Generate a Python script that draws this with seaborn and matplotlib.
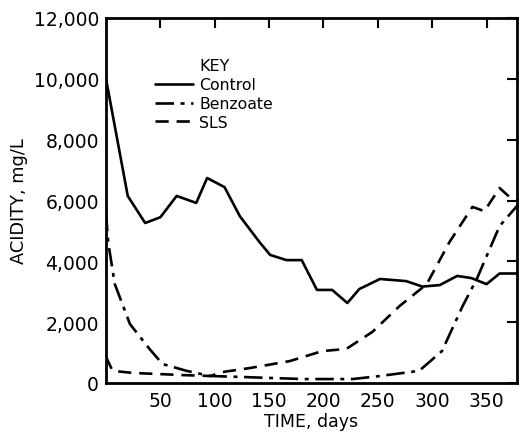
import matplotlib
matplotlib.use("Agg")
import matplotlib.pyplot as plt
import seaborn as sns
import pandas as pd
from matplotlib.ticker import FuncFormatter

control_days = [0, 20, 36, 50, 65, 83, 93, 109, 123, 141, 151, 166, 180, 194, 208, 222, 233, 252, 276, 291, 307, 323, 336, 350, 362, 378]
control_acid = [10000, 6150, 5260, 5450, 6150, 5920, 6740, 6440, 5490, 4640, 4210, 4040, 4040, 3060, 3060, 2630, 3090, 3420, 3350, 3170, 3220, 3520, 3450, 3250, 3600, 3600]

benzoate_days = [0, 2, 8, 22, 40, 52, 74, 96, 123, 181, 227, 252, 288, 309, 328, 341, 362, 378]
benzoate_acid = [5600, 4640, 3260, 1940, 1120, 625, 400, 230, 200, 130, 130, 230, 400, 1050, 2530, 3420, 5160, 5820]

sls_days = [0, 6, 25, 71, 96, 107, 132, 169, 199, 221, 245, 270, 295, 316, 337, 348, 362, 371, 378]
sls_acid = [860, 400, 330, 260, 230, 360, 490, 720, 1050, 1120, 1680, 2530, 3250, 4640, 5790, 5650, 6410, 6120, 5980]

series_names = ["Control", "Benzoate", "SLS"]
x_ticks = [50, 100, 150, 200, 250, 300, 350]
y_ticks = [0, 2000, 4000, 6000, 8000, 10000, 12000]

sns.set_theme(style="white")
plt.rcParams["font.family"] = ["DejaVu Sans"]
plt.rcParams["text.color"] = "black"
plt.rcParams["axes.labelcolor"] = "black"

fig = plt.figure(figsize=(5.19, 4.35), dpi=100)
ax = fig.add_axes([106 / 519, 1 - 384 / 435, 411 / 519, 365 / 435])

styles = {
    "Control": dict(linestyle="-", linewidth=1.9),
    "Benzoate": dict(linestyle=(0, (7, 2.5, 1.5, 2.5)), linewidth=1.9),
    "SLS": dict(linestyle=(0, (5, 3)), linewidth=1.9),
}
data = {
    "Control": (control_days, control_acid),
    "Benzoate": (benzoate_days, benzoate_acid),
    "SLS": (sls_days, sls_acid),
}
for name in series_names:
    d, a = data[name]
    df = pd.DataFrame({"day": d, "acid": a})
    sns.lineplot(data=df, x="day", y="acid", ax=ax, color="black",
                 label=name, sort=False, **styles[name])

ax.set_xlim(0, 378)
ax.set_ylim(0, 12000)
ax.set_xticks(x_ticks)
ax.set_yticks(y_ticks)
ax.yaxis.set_major_formatter(FuncFormatter(lambda v, p: f"{int(v):,}"))
ax.tick_params(direction="in", length=7, width=1.5, top=True, right=True,
               labelsize=13.5, colors="black", pad=5)
ax.tick_params(axis="x", pad=6)
for s in ax.spines.values():
    s.set_linewidth(2)
    s.set_color("black")

ax.set_xlabel("TIME, days", fontsize=12.5, labelpad=1)
ax.set_ylabel("ACIDITY, mg/L", fontsize=12.8, labelpad=4)

leg = ax.legend(title="KEY", loc="upper left", bbox_to_anchor=(0.12, 0.89),
                frameon=False, fontsize=11.3, title_fontsize=11.5,
                handlelength=2.4, handletextpad=0.4, labelspacing=0.25,
                borderpad=0, borderaxespad=0)
for t in leg.get_texts():
    t.set_color("black")
leg.get_title().set_color("black")

fig.savefig("out.png", dpi=100)
